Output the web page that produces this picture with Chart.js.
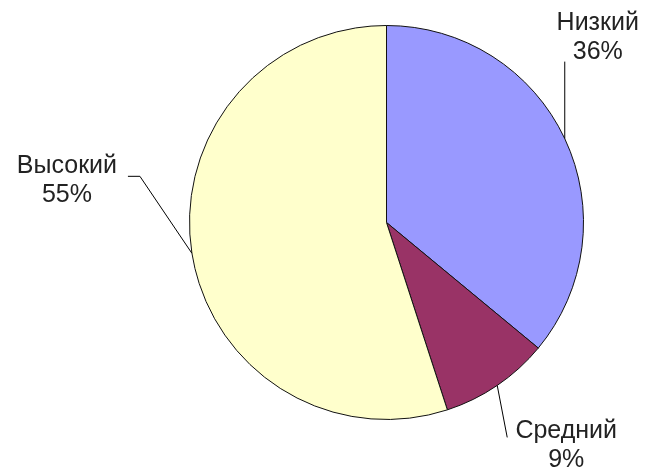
<!DOCTYPE html>
<html>
<head>
  <title>Распределение уровней</title>
  <script src="https://cdn.jsdelivr.net/npm/chart.js@4.4.1/dist/chart.umd.min.js"></script>
  <style>
    html, body { margin: 0; padding: 0; background: #fff; }
    #wrap { width: 645px; height: 470px; }
  </style>
</head>
<body>

  <div id="wrap">
    <canvas id="levelsChart" width="645" height="470"></canvas>
  </div>

  <script>
    // data
    const categories = ['Низкий', 'Средний', 'Высокий'];
    const shares = [36, 9, 55];
    const sliceColors = ['#9999ff', '#993366', '#ffffcc'];

    // leader line + label placement, relative to the slice's edge point
    const calloutPlan = [
      { path: [[0, -77]], text: [33, -102] },
      { path: [[10, 52]], text: [69, 60] },
      { path: [[-52, -77], [-64, -77]], text: [-125, -73] }
    ];

    const calloutPlugin = {
      id: 'callouts',
      afterDraw(chart) {
        const ctx = chart.ctx;
        const arcs = chart.getDatasetMeta(0).data;
        ctx.save();
        arcs.forEach((arc, i) => {
          const mid = (arc.startAngle + arc.endAngle) / 2;
          const ex = arc.x + Math.cos(mid) * arc.outerRadius;
          const ey = arc.y + Math.sin(mid) * arc.outerRadius;
          const plan = calloutPlan[i];

          ctx.strokeStyle = '#000';
          ctx.lineWidth = 1;
          ctx.beginPath();
          ctx.moveTo(ex, ey);
          plan.path.forEach(p => ctx.lineTo(ex + p[0], ey + p[1]));
          ctx.stroke();

          ctx.fillStyle = '#222';
          ctx.font = '25px "Liberation Sans", Arial, sans-serif';
          ctx.textAlign = 'center';
          ctx.textBaseline = 'middle';
          const tx = ex + plan.text[0];
          const ty = ey + plan.text[1];
          ctx.fillText(categories[i], tx, ty - 14);
          ctx.fillText(shares[i] + '%', tx, ty + 15);
        });
        ctx.restore();
      }
    };

    const ctx = document.getElementById('levelsChart').getContext('2d');
    new Chart(ctx, {
      type: 'pie',
      data: {
        labels: categories,
        datasets: [{
          data: shares,
          backgroundColor: sliceColors,
          borderColor: '#111',
          borderWidth: 1
        }]
      },
      options: {
        responsive: false,
        animation: false,
        layout: {
          padding: { left: 189, right: 61, top: 25, bottom: 50 }
        },
        plugins: {
          legend: { display: false },
          tooltip: { enabled: false }
        }
      },
      plugins: [calloutPlugin]
    });
  </script>

</body>
</html>
